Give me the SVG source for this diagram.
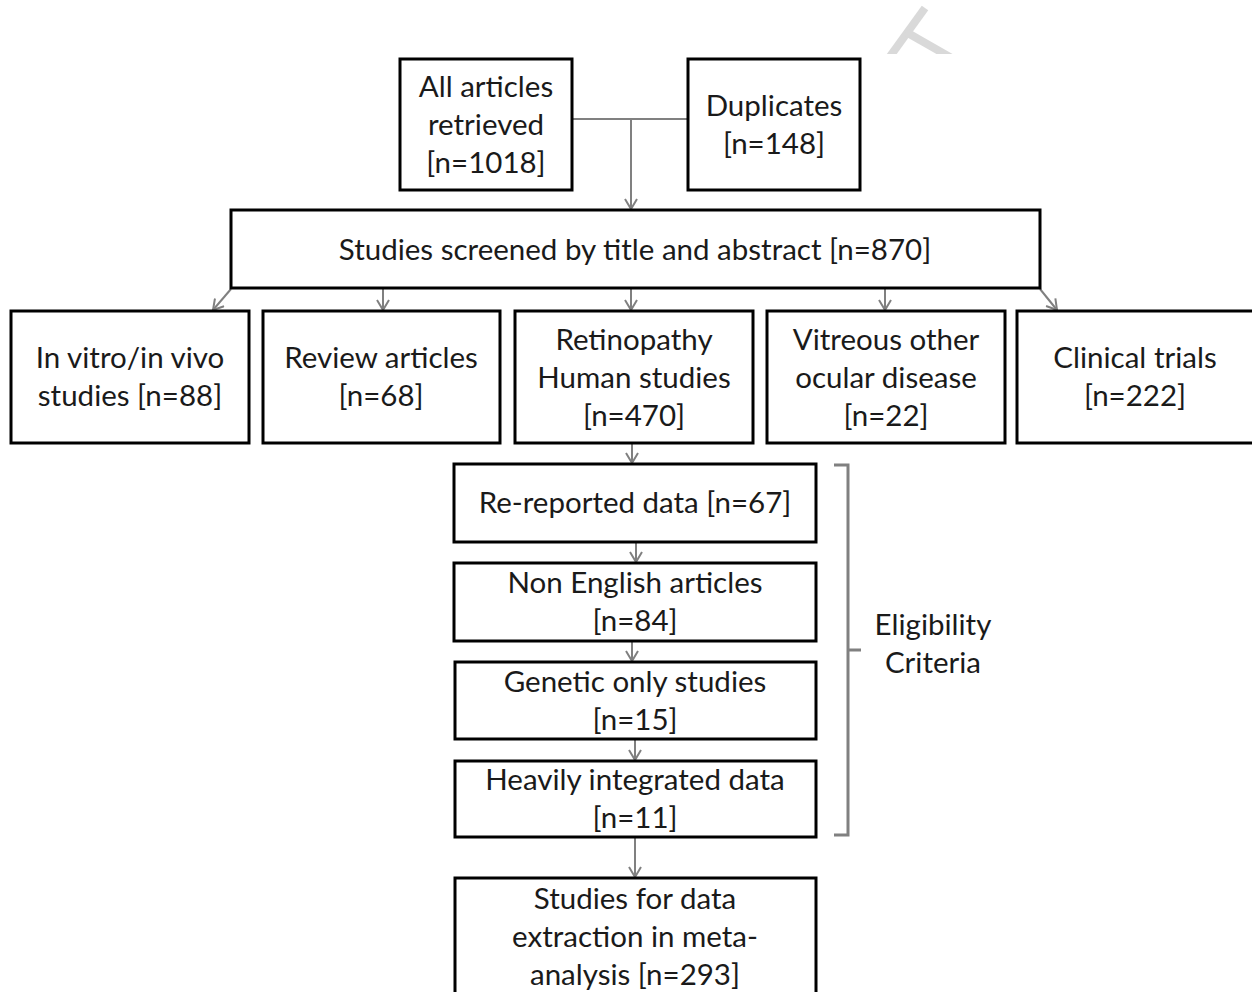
<svg xmlns="http://www.w3.org/2000/svg" width="1252" height="992" viewBox="0 0 1252 992">
<style>
.box{fill:#fff;stroke:#000;stroke-width:3}
.t{font-family:Lato,"Liberation Sans",sans-serif;font-size:29.5px;fill:#1a1a1a;text-anchor:middle}
.c{fill:none;stroke:#808080;stroke-width:2}
</style>
<defs>
<marker id="ah" viewBox="0 0 14 14" refX="12" refY="7" markerWidth="14" markerHeight="14" markerUnits="userSpaceOnUse" orient="auto">
<path d="M2,1 L12,7 L2,13" fill="none" stroke="#808080" stroke-width="2"/>
</marker>
<clipPath id="wm"><rect x="860" y="0" width="120" height="54"/></clipPath>
</defs>
<rect width="1252" height="992" fill="#fff"/>
<g id="watermark" stroke="#d9d9d9" stroke-width="8" fill="none" clip-path="url(#wm)">
<line x1="925" y1="8" x2="886" y2="62"/>
<line x1="906" y1="32" x2="955" y2="60"/>
</g>
<g id="connectors">
<path class="c" d="M573,119 H688"/>
<path class="c" d="M631,119 V209" marker-end="url(#ah)"/>
<path class="c" d="M231,289 L213,310" marker-end="url(#ah)"/>
<path class="c" d="M383,289 V310" marker-end="url(#ah)"/>
<path class="c" d="M631,289 V310" marker-end="url(#ah)"/>
<path class="c" d="M885,289 V310" marker-end="url(#ah)"/>
<path class="c" d="M1040,289 L1057,310" marker-end="url(#ah)"/>
<path class="c" d="M632,444 V463" marker-end="url(#ah)"/>
<path class="c" d="M636,543 V562" marker-end="url(#ah)"/>
<path class="c" d="M632,642 V661" marker-end="url(#ah)"/>
<path class="c" d="M635,740 V760" marker-end="url(#ah)"/>
<path class="c" d="M635,838 V877" marker-end="url(#ah)"/>
<path id="bracket" d="M834,465 H848 V835 H834 M848,650 H861" fill="none" stroke="#808080" stroke-width="3"/>
</g>
<g id="n-all"><rect class="box" x="400" y="59" width="172" height="131"/>
<text class="t" x="486" y="97">All articles</text><text class="t" x="486" y="135">retrieved</text><text class="t" x="486" y="173">[n=1018]</text></g>
<g id="n-dup"><rect class="box" x="688" y="59" width="172" height="131"/>
<text class="t" x="774" y="116">Duplicates</text><text class="t" x="774" y="154">[n=148]</text></g>
<g id="n-screen"><rect class="box" x="231" y="210" width="809" height="78"/>
<text class="t" x="635" y="260">Studies screened by title and abstract [n=870]</text></g>
<g id="n-vitro"><rect class="box" x="11" y="311" width="238" height="132"/>
<text class="t" x="130" y="368">In vitro/in vivo</text><text class="t" x="130" y="406">studies [n=88]</text></g>
<g id="n-review"><rect class="box" x="263" y="311" width="237" height="132"/>
<text class="t" x="381" y="368">Review articles</text><text class="t" x="381" y="406">[n=68]</text></g>
<g id="n-retino"><rect class="box" x="515" y="311" width="238" height="132"/>
<text class="t" x="634" y="350">Retinopathy</text><text class="t" x="634" y="388">Human studies</text><text class="t" x="634" y="426">[n=470]</text></g>
<g id="n-vitreous"><rect class="box" x="767" y="311" width="238" height="132"/>
<text class="t" x="886" y="350">Vitreous other</text><text class="t" x="886" y="388">ocular disease</text><text class="t" x="886" y="426">[n=22]</text></g>
<g id="n-clinical"><rect class="box" x="1017" y="311" width="240" height="132"/>
<text class="t" x="1135" y="368">Clinical trials</text><text class="t" x="1135" y="406">[n=222]</text></g>
<g id="n-rereported"><rect class="box" x="454" y="464" width="362" height="78"/>
<text class="t" x="635" y="513">Re-reported data [n=67]</text></g>
<g id="n-nonenglish"><rect class="box" x="454" y="563" width="362" height="78"/>
<text class="t" x="635" y="593">Non English articles</text><text class="t" x="635" y="631">[n=84]</text></g>
<g id="n-genetic"><rect class="box" x="455" y="662" width="361" height="77"/>
<text class="t" x="635" y="692">Genetic only studies</text><text class="t" x="635" y="730">[n=15]</text></g>
<g id="n-heavily"><rect class="box" x="455" y="761" width="361" height="76"/>
<text class="t" x="635" y="790">Heavily integrated data</text><text class="t" x="635" y="828">[n=11]</text></g>
<g id="n-final"><rect class="box" x="455" y="878" width="361" height="120"/>
<text class="t" x="635" y="909">Studies for data</text><text class="t" x="635" y="947">extraction in meta-</text><text class="t" x="635" y="985">analysis [n=293]</text></g>
<g id="n-eligibility">
<text class="t" x="933" y="635">Eligibility</text><text class="t" x="933" y="673">Criteria</text></g>
</svg>
